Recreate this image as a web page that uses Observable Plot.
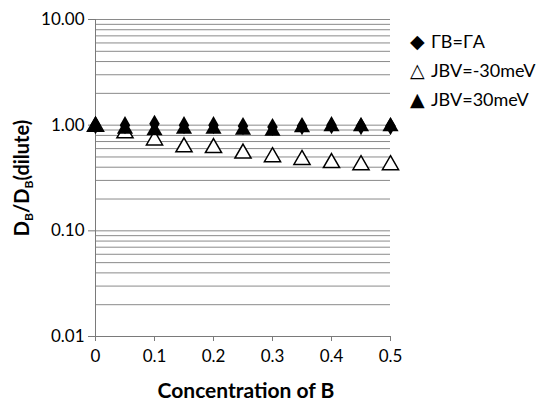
<!DOCTYPE html>
<html>
<head>
<meta charset="utf-8">
<script src="https://cdn.jsdelivr.net/npm/d3@7"></script>
<script src="https://cdn.jsdelivr.net/npm/@observablehq/plot@0.6"></script>
<style>
  body { margin: 0; background: #fff; }
  #wrap { position: relative; width: 540px; height: 406px; font-family: Lato, "Open Sans", sans-serif; }
  #legend { position: absolute; left: 410px; top: 27px; font-size: 18px; color: #000; line-height: 29px; white-space: nowrap; }
  #legend .sym { display: inline-block; width: 21px; font-size: 19px; font-family: "DejaVu Sans", sans-serif; }
</style>
</head>
<body>
<div id="wrap">
  <div id="chart"></div>
  <div id="legend"></div>
</div>
<script>
const concentration = [0, 0.05, 0.1, 0.15, 0.2, 0.25, 0.3, 0.35, 0.4, 0.45, 0.5];
const gammaEqual = [1.0, 1.0, 1.03, 1.0, 1.0, 0.98, 0.96, 0.98, 1.0, 0.98, 0.98];
const jbvMinus30 = [0.97, 0.84, 0.72, 0.62, 0.61, 0.54, 0.50, 0.47, 0.44, 0.42, 0.42];
const jbvPlus30 = [0.96, 0.92, 0.89, 0.92, 0.92, 0.90, 0.88, 0.95, 0.97, 0.97, 0.97];
const seriesNames = ["ΓB=ΓA", "JBV=-30meV", "JBV=30meV"];
const yTicks = [0.01, 0.1, 1, 10];
const xTicks = [0, 0.1, 0.2, 0.3, 0.4, 0.5];

const rows = (vals) => concentration.map((c, i) => ({c, v: vals[i]}));
const gridValues = [];
for (const p of [0.01, 0.1, 1]) for (let k = 1; k <= 9; k++) gridValues.push(+(k * p).toPrecision(3));
gridValues.push(10);

const chart = Plot.plot({
  width: 540,
  height: 406,
  marginLeft: 95,
  marginRight: 150,
  marginTop: 19,
  marginBottom: 70,
  style: {fontFamily: "Lato, 'Open Sans', sans-serif", fontSize: "17px", color: "#000", background: "#fff"},
  x: {domain: [0, 0.5], label: null},
  y: {type: "log", domain: [0.01, 10], label: null},
  marks: [
    Plot.ruleY(gridValues, {stroke: "#8a8a8a", strokeWidth: 1}),
    Plot.ruleX([0], {stroke: "#7a7a7a"}),
    Plot.ruleY([0.01], {stroke: "#7a7a7a"}),
    Plot.axisX({ticks: xTicks, tickFormat: d => d === 0 ? "0" : d.toFixed(1), tickSize: 5, tickPadding: 8, stroke: "#7a7a7a", fontSize: 17, label: null}),
    Plot.axisY({ticks: yTicks, tickFormat: d3.format(".2f"), tickSize: 7, tickPadding: 4, stroke: "#7a7a7a", fontSize: 17, label: null}),
    Plot.dot(rows(jbvMinus30), {x: "c", y: "v", symbol: "triangle", r: 6, fill: "#fff", stroke: "#000", strokeWidth: 1.5}),
    Plot.dot(rows(gammaEqual), {x: "c", y: "v", symbol: "diamond", r: 5.5, fill: "#000", stroke: "none"}),
    Plot.dot(rows(jbvPlus30), {x: "c", y: "v", symbol: "triangle", r: 6, fill: "#000", stroke: "none"})
  ]
});
document.getElementById("chart").appendChild(chart);

const svg = d3.select(chart);
svg.append("text")
  .attr("x", 246).attr("y", 398)
  .attr("text-anchor", "middle")
  .attr("font-size", 21).attr("font-weight", "bold")
  .text("Concentration of B");

const yt = svg.append("text")
  .attr("transform", "translate(29,178) rotate(-90)")
  .attr("text-anchor", "middle")
  .attr("font-size", 20).attr("font-weight", "bold");
yt.append("tspan").text("D");
yt.append("tspan").attr("font-size", 12).attr("dy", 4).text("B");
yt.append("tspan").attr("dy", -4).text("/D");
yt.append("tspan").attr("font-size", 12).attr("dy", 4).text("B");
yt.append("tspan").attr("dy", -4).text("(dilute)");

const symbols = ["◆", "△", "▲"];
const legend = d3.select("#legend");
seriesNames.forEach((name, i) => {
  const row = legend.append("div");
  row.append("span").attr("class", "sym").text(symbols[i]);
  row.append("span").text(name);
});
</script>
</body>
</html>
